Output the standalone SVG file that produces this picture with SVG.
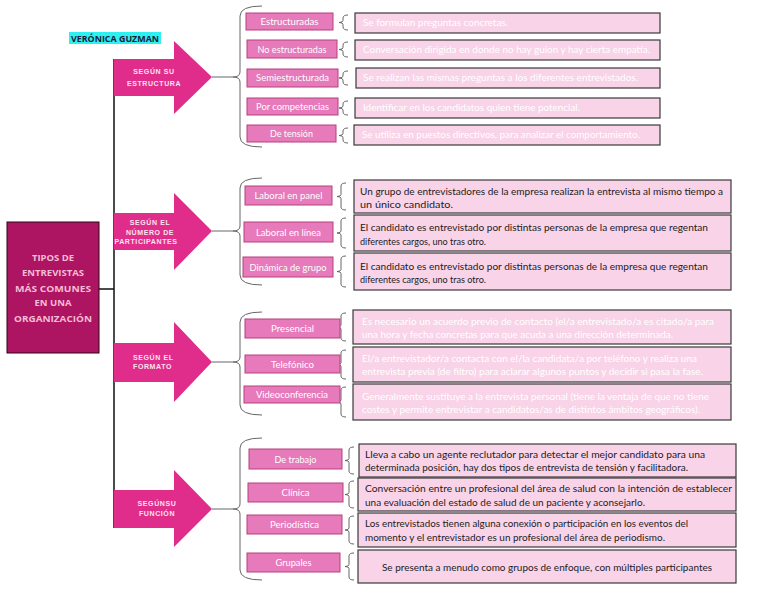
<svg xmlns="http://www.w3.org/2000/svg" width="768" height="594" viewBox="0 0 768 594">
<style>
.arrow{fill:#e02d8b}
.atext{font-family:"Liberation Sans",Arial,sans-serif;font-size:7px;font-weight:bold;fill:#fbe3ef;letter-spacing:0.6px}
.cat{fill:#e67abb;stroke:#b8407f;stroke-width:1}
.ctext{font-family:Lato,"Liberation Sans",sans-serif;font-size:9.5px;fill:#ffffff;text-anchor:middle}
.desc{fill:#f9d3e8;stroke:#3a3a3a;stroke-width:1.2}
.dw{font-family:Lato,"Liberation Sans",sans-serif;font-size:9.5px;fill:#ffffff}
.dd{font-family:Lato,"Liberation Sans",sans-serif;font-size:10px;fill:#1c1c1c}
.brace{fill:none;stroke:#666;stroke-width:1}
.line{fill:none;stroke:#111;stroke-width:1.5}
</style>
<rect width="768" height="594" fill="#ffffff"/>

<g id="title">
<rect x="69" y="32" width="92" height="12" fill="#2ff0f0"/>
<text x="115" y="42" text-anchor="middle" font-family="'Open Sans','Liberation Sans',sans-serif" font-size="9.5" font-weight="bold" fill="#1a1a3a" textLength="88" lengthAdjust="spacingAndGlyphs">VERÓNICA GUZMAN</text>
</g>

<g id="connectors">
<path class="line" d="M99,289 L114,289 M114,59 L114,528"/>
<path class="brace" d="M212,77 L233,77 M262,6 Q240,6 240,16 L240,72 Q240,77 233,77 Q240,77 240,82 L240,137 Q240,147 262,147"/>
<path class="brace" d="M212,231 L233,231 M262,178 Q240,178 240,188 L240,226 Q240,231 233,231 Q240,231 240,236 L240,275 Q240,285 262,285"/>
<path class="brace" d="M212,362 L233,362 M262,312 Q240,312 240,322 L240,357 Q240,362 233,362 Q240,362 240,367 L240,405 Q240,415 262,415"/>
<path class="brace" d="M212,509 L233,509 M262,438 Q240,438 240,448 L240,504 Q240,509 233,509 Q240,509 240,514 L240,570 Q240,580 262,580"/>
<path class="brace" d="M348,15 Q343,15 343,18 L343,20.5 Q343,22.5 339,22.5 Q343,22.5 343,24.5 L343,27 Q343,30 348,30"/>
<path class="brace" d="M348,42 Q343,42 343,45 L343,47.5 Q343,49.5 339,49.5 Q343,49.5 343,51.5 L343,54 Q343,57 348,57"/>
<path class="brace" d="M348,71 Q343,71 343,74 L343,76 Q343,78 339,78 Q343,78 343,80 L343,82 Q343,85 348,85"/>
<path class="brace" d="M348,101 Q343,101 343,104 L343,106 Q343,108 339,108 Q343,108 343,110 L343,112 Q343,115 348,115"/>
<path class="brace" d="M348,128 Q343,128 343,131 L343,133.5 Q343,135.5 339,135.5 Q343,135.5 343,137.5 L343,140 Q343,143 348,143"/>
<path class="brace" d="M346,183 Q341,183 341,186 L341,194.5 Q341,196.5 337,196.5 Q341,196.5 341,198.5 L341,207 Q341,210 346,210"/>
<path class="brace" d="M346,218 Q341,218 341,221 L341,231 Q341,233 337,233 Q341,233 341,235 L341,245 Q341,248 346,248"/>
<path class="brace" d="M346,256 Q341,256 341,259 L341,269.5 Q341,271.5 337,271.5 Q341,271.5 341,273.5 L341,284 Q341,287 346,287"/>
<path class="brace" d="M346,313 Q341,313 341,316 L341,325 Q341,327 337,327 Q341,327 341,329 L341,338 Q341,341 346,341"/>
<path class="brace" d="M346,350 Q341,350 341,353 L341,362.5 Q341,364.5 337,364.5 Q341,364.5 341,366.5 L341,376 Q341,379 346,379"/>
<path class="brace" d="M346,387 Q341,387 341,390 L341,400 Q341,402 337,402 Q341,402 341,404 L341,414 Q341,417 346,417"/>
<path class="brace" d="M354,447 Q349,447 349,450 L349,458.5 Q349,460.5 345,460.5 Q349,460.5 349,462.5 L349,471 Q349,474 354,474"/>
<path class="brace" d="M354,481 Q349,481 349,484 L349,492.5 Q349,494.5 345,494.5 Q349,494.5 349,496.5 L349,505 Q349,508 354,508"/>
<path class="brace" d="M354,516 Q349,516 349,519 L349,528 Q349,530 345,530 Q349,530 349,532 L349,541 Q349,544 354,544"/>
<path class="brace" d="M354,553 Q349,553 349,556 L349,564.5 Q349,566.5 345,566.5 Q349,566.5 349,568.5 L349,577 Q349,580 354,580"/>
</g>

<g id="root">
<rect x="7" y="222" width="92" height="131" fill="#ad1461" stroke="#2a0818" stroke-width="1"/>
<g font-family="'Open Sans','Liberation Sans',sans-serif" font-size="9.5" font-weight="bold" fill="#f5bcd6" text-anchor="middle">
<text x="53" y="261">TIPOS DE</text>
<text x="53" y="276">ENTREVISTAS</text>
<text x="53" y="292" textLength="76" lengthAdjust="spacingAndGlyphs">MÁS COMUNES</text>
<text x="53" y="306">EN UNA</text>
<text x="53" y="322" textLength="78" lengthAdjust="spacingAndGlyphs">ORGANIZACIÓN</text>
</g>
</g>

<g id="arrow-estructura">
<polygon class="arrow" points="114,59 174,59 174,41 212,77 174,114 174,96 114,96"/>
<text class="atext" x="154" y="74" text-anchor="middle">SEGÚN SU</text>
<text class="atext" x="154" y="86" text-anchor="middle">ESTRUCTURA</text>
</g>
<g id="arrow-participantes">
<polygon class="arrow" points="114,213 174,213 174,193 212,231 174,270 174,250 114,250"/>
<text class="atext" x="150" y="225" text-anchor="middle">SEGÚN EL</text>
<text class="atext" x="150" y="235" text-anchor="middle">NÚMERO DE</text>
<text class="atext" x="146" y="244" text-anchor="middle">PARTICIPANTES</text>
</g>
<g id="arrow-formato">
<polygon class="arrow" points="114,343 174,343 174,322 212,362 174,402 174,382 114,382"/>
<text class="atext" x="133" y="360">SEGÚN EL</text>
<text class="atext" x="133" y="369">FORMATO</text>
</g>
<g id="arrow-funcion">
<polygon class="arrow" points="114,490 174,490 174,470 212,509 174,547 174,528 114,528"/>
<text class="atext" x="157" y="506" text-anchor="middle">SEGÚNSU</text>
<text class="atext" x="157" y="516" text-anchor="middle">FUNCIÓN</text>
</g>

<g id="estructuradas"><rect class="cat" x="246" y="13" width="87" height="17"/><text class="ctext" x="289.5" y="25" textLength="58" lengthAdjust="spacingAndGlyphs">Estructuradas</text></g>
<g id="no-estructuradas"><rect class="cat" x="247" y="40" width="90" height="18"/><text class="ctext" x="292" y="52.5" textLength="69" lengthAdjust="spacingAndGlyphs">No estructuradas</text></g>
<g id="semiestructurada"><rect class="cat" x="247" y="69" width="91" height="18"/><text class="ctext" x="292.5" y="81" textLength="73" lengthAdjust="spacingAndGlyphs">Semiestructurada</text></g>
<g id="por-competencias"><rect class="cat" x="247" y="98" width="91" height="17"/><text class="ctext" x="292.5" y="110" textLength="73" lengthAdjust="spacingAndGlyphs">Por competencias</text></g>
<g id="de-tension"><rect class="cat" x="247" y="125" width="89" height="17"/><text class="ctext" x="291.5" y="137" textLength="43" lengthAdjust="spacingAndGlyphs">De tensión</text></g>

<g id="d-estructuradas"><rect class="desc" x="355" y="13" width="305" height="20"/><text class="dw" x="363" y="26" textLength="145" lengthAdjust="spacingAndGlyphs">Se formulan preguntas concretas.</text></g>
<g id="d-no-estructuradas"><rect class="desc" x="355" y="40" width="305" height="20"/><text class="dw" x="363" y="53" textLength="287" lengthAdjust="spacingAndGlyphs">Conversación dirigida en donde no hay guion y hay cierta empatía.</text></g>
<g id="d-semiestructurada"><rect class="desc" x="356" y="68" width="304" height="20"/><text class="dw" x="363" y="81" textLength="275" lengthAdjust="spacingAndGlyphs">Se realizan las mismas preguntas a los diferentes entrevistados.</text></g>
<g id="d-competencias"><rect class="desc" x="355" y="98" width="305" height="20"/><text class="dw" x="363" y="111" textLength="217" lengthAdjust="spacingAndGlyphs">Identificar en los candidatos quien tiene potencial.</text></g>
<g id="d-tension"><rect class="desc" x="354" y="125" width="306" height="20"/><text class="dw" x="362" y="138" textLength="278" lengthAdjust="spacingAndGlyphs">Se utiliza en puestos directivos, para analizar el comportamiento.</text></g>

<g id="laboral-panel"><rect class="cat" x="245" y="186" width="87" height="19"/><text class="ctext" x="288.5" y="199" textLength="68" lengthAdjust="spacingAndGlyphs">Laboral en panel</text></g>
<g id="laboral-linea"><rect class="cat" x="244" y="222" width="89" height="20"/><text class="ctext" x="288.5" y="235.5" textLength="65" lengthAdjust="spacingAndGlyphs">Laboral en línea</text></g>
<g id="dinamica-grupo"><rect class="cat" x="243" y="257" width="90" height="20"/><text class="ctext" x="288" y="270.5" textLength="77" lengthAdjust="spacingAndGlyphs">Dinámica de grupo</text></g>

<g id="d-panel"><rect class="desc" x="354" y="180" width="377" height="33"/>
<text class="dd" x="360" y="194.5" textLength="363" lengthAdjust="spacingAndGlyphs">Un grupo de entrevistadores de la empresa realizan la entrevista al mismo tiempo a</text>
<text class="dd" x="360" y="207.5" textLength="93" lengthAdjust="spacingAndGlyphs">un único candidato.</text></g>
<g id="d-linea"><rect class="desc" x="354" y="215" width="377" height="36"/>
<text class="dd" x="360" y="231" textLength="348" lengthAdjust="spacingAndGlyphs">El candidato es entrevistado por distintas personas de la empresa que regentan</text>
<text class="dd" x="360" y="244.5" textLength="126" lengthAdjust="spacingAndGlyphs">diferentes cargos, uno tras otro.</text></g>
<g id="d-dinamica"><rect class="desc" x="354" y="253" width="377" height="37"/>
<text class="dd" x="360" y="269.5" textLength="348" lengthAdjust="spacingAndGlyphs">El candidato es entrevistado por distintas personas de la empresa que regentan</text>
<text class="dd" x="360" y="282.5" textLength="126" lengthAdjust="spacingAndGlyphs">diferentes cargos, uno tras otro.</text></g>

<g id="presencial"><rect class="cat" x="245" y="319" width="95" height="19"/><text class="ctext" x="292.5" y="332" textLength="43" lengthAdjust="spacingAndGlyphs">Presencial</text></g>
<g id="telefonico"><rect class="cat" x="245" y="355" width="95" height="18"/><text class="ctext" x="292.5" y="367.5" textLength="43" lengthAdjust="spacingAndGlyphs">Telefónico</text></g>
<g id="videoconferencia"><rect class="cat" x="244" y="386" width="96" height="17"/><text class="ctext" x="292" y="398" textLength="72" lengthAdjust="spacingAndGlyphs">Videoconferencia</text></g>

<g id="d-presencial"><rect class="desc" x="353" y="310" width="378" height="34"/>
<text class="dw" x="362" y="325" textLength="352" lengthAdjust="spacingAndGlyphs">Es necesario un acuerdo previo de contacto (el/a entrevistado/a es citado/a para</text>
<text class="dw" x="362" y="338" textLength="311" lengthAdjust="spacingAndGlyphs">una hora y fecha concretas para que acuda a una dirección determinada.</text></g>
<g id="d-telefonico"><rect class="desc" x="353" y="347" width="378" height="35"/>
<text class="dw" x="362" y="361.5" textLength="335" lengthAdjust="spacingAndGlyphs">El/a entrevistador/a contacta con el/la candidata/a por teléfono y realiza una</text>
<text class="dw" x="362" y="375" textLength="341" lengthAdjust="spacingAndGlyphs">entrevista previa (de filtro) para aclarar algunos puntos y decidir si pasa la fase.</text></g>
<g id="d-videoconferencia"><rect class="desc" x="353" y="384" width="378" height="36"/>
<text class="dw" x="362" y="400" textLength="347" lengthAdjust="spacingAndGlyphs">Generalmente sustituye a la entrevista personal (tiene la ventaja de que no tiene</text>
<text class="dw" x="362" y="413" textLength="338" lengthAdjust="spacingAndGlyphs">costes y permite entrevistar a candidatos/as de distintos ámbitos geográficos).</text></g>

<g id="de-trabajo"><rect class="cat" x="249" y="449" width="93" height="20"/><text class="ctext" x="295.5" y="462.5" textLength="42" lengthAdjust="spacingAndGlyphs">De trabajo</text></g>
<g id="clinica"><rect class="cat" x="248" y="483" width="95" height="19"/><text class="ctext" x="295.5" y="496" textLength="28" lengthAdjust="spacingAndGlyphs">Clínica</text></g>
<g id="periodistica"><rect class="cat" x="247" y="515" width="95" height="19"/><text class="ctext" x="294.5" y="528" textLength="49" lengthAdjust="spacingAndGlyphs">Periodística</text></g>
<g id="grupales"><rect class="cat" x="247" y="553" width="93" height="19"/><text class="ctext" x="293.5" y="566" textLength="36" lengthAdjust="spacingAndGlyphs">Grupales</text></g>

<g id="d-trabajo"><rect class="desc" x="359" y="444" width="377" height="33"/>
<text class="dd" x="365" y="457.5" textLength="340" lengthAdjust="spacingAndGlyphs">Lleva a cabo un agente reclutador para detectar el mejor candidato para una</text>
<text class="dd" x="365" y="470.5" textLength="323" lengthAdjust="spacingAndGlyphs">determinada posición, hay dos tipos de entrevista de tensión y facilitadora.</text></g>
<g id="d-clinica"><rect class="desc" x="358" y="478" width="378" height="33"/>
<text class="dd" x="365" y="491.5" textLength="367" lengthAdjust="spacingAndGlyphs">Conversación entre un profesional del área de salud con la intención de establecer</text>
<text class="dd" x="365" y="505.5" textLength="280" lengthAdjust="spacingAndGlyphs">una evaluación del estado de salud de un paciente y aconsejarlo.</text></g>
<g id="d-periodistica"><rect class="desc" x="358" y="513" width="378" height="34"/>
<text class="dd" x="365" y="526.5" textLength="323" lengthAdjust="spacingAndGlyphs">Los entrevistados tienen alguna conexión o participación en los eventos del</text>
<text class="dd" x="365" y="540.5" textLength="300" lengthAdjust="spacingAndGlyphs">momento y el entrevistador es un profesional del área de periodismo.</text></g>
<g id="d-grupales"><rect class="desc" x="358" y="550" width="378" height="33"/>
<text class="dd" x="382" y="570.5" textLength="330" lengthAdjust="spacingAndGlyphs">Se presenta a menudo como grupos de enfoque, con múltiples participantes</text></g>
</svg>
